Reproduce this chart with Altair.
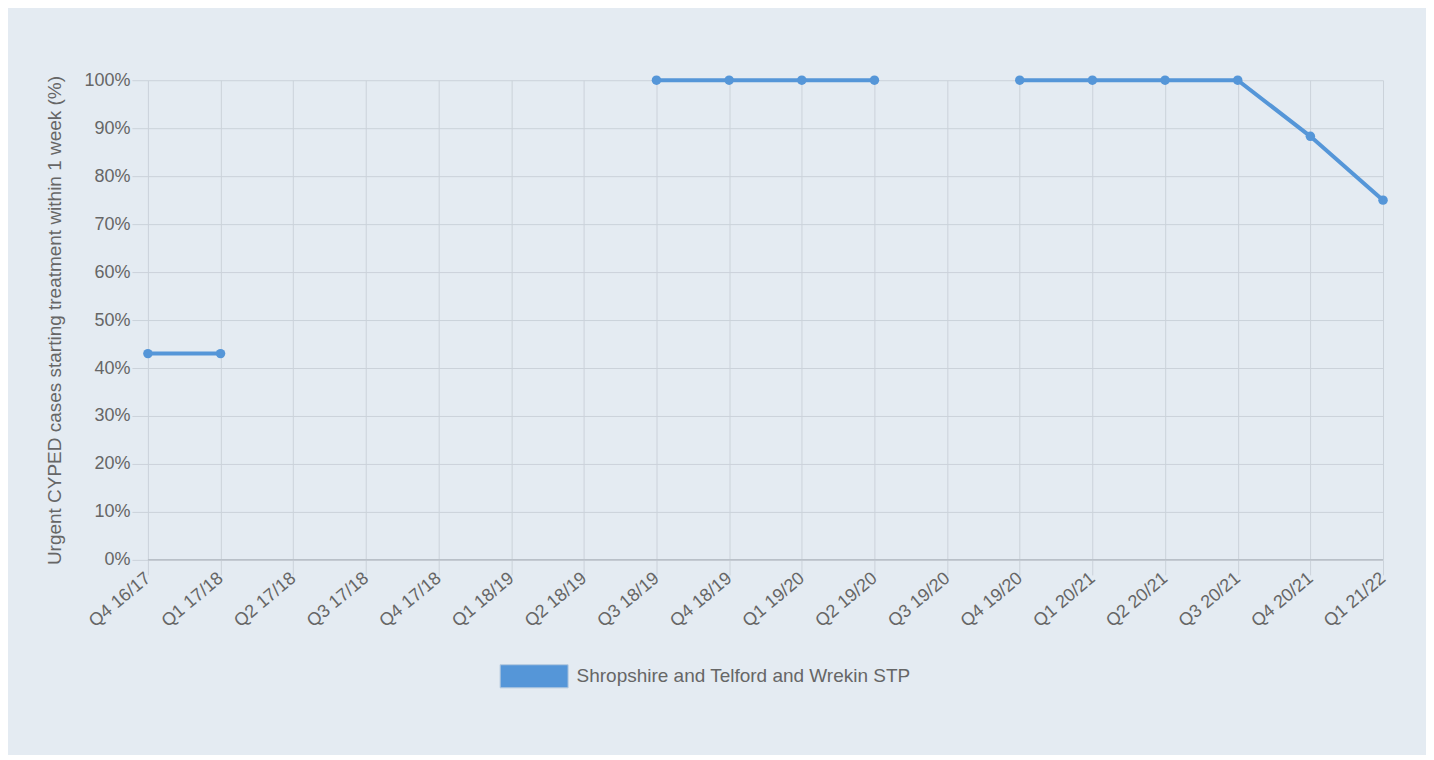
import altair as alt
import pandas as pd

quarters = ["Q4 16/17", "Q1 17/18", "Q2 17/18", "Q3 17/18", "Q4 17/18", "Q1 18/19",
            "Q2 18/19", "Q3 18/19", "Q4 18/19", "Q1 19/20", "Q2 19/20", "Q3 19/20",
            "Q4 19/20", "Q1 20/21", "Q2 20/21", "Q3 20/21", "Q4 20/21", "Q1 21/22"]
values = [43, 43, None, None, None, None,
          None, 100, 100, 100, 100, None,
          100, 100, 100, 100, 88.3, 75]
series = "Shropshire and Telford and Wrekin STP"
y_ticks = list(range(0, 101, 10))

df = pd.DataFrame({"quarter": quarters, "value": values, "series": [series] * len(quarters)})

BLUE = "#5596d8"
GRID = "#cbd2da"
TEXT = "#666666"
FONT = "Liberation Sans"

x_enc = alt.X("quarter:N", sort=quarters,
              scale=alt.Scale(type="point", domain=quarters, padding=0),
              axis=alt.Axis(title=None, grid=True, gridColor=GRID, tickColor=GRID,
                            tickSize=15, domain=False, labelAngle=-40, labelAlign="right",
                            labelBaseline="middle", labelPadding=1, labelFontSize=18,
                            labelColor=TEXT, labelFont=FONT))
y_enc = alt.Y("value:Q", scale=alt.Scale(domain=[0, 100], nice=False),
              axis=alt.Axis(values=y_ticks, labelExpr="datum.value + '%'",
                            title="Urgent CYPED cases starting treatment within 1 week (%)",
                            titleFontSize=19, titleFontWeight="normal", titleColor=TEXT,
                            titleFont=FONT, titlePadding=19,
                            grid=True, gridColor=GRID, tickColor=GRID, tickSize=16,
                            domain=False, labelPadding=2, labelFontSize=18,
                            labelColor=TEXT, labelFont=FONT))

line = alt.Chart(df).mark_line(color=BLUE, strokeWidth=4,
                               invalid="break-paths-show-domains").encode(x=x_enc, y=y_enc)

points = alt.Chart(df).mark_circle(size=90, opacity=1).encode(
    x=x_enc, y=y_enc,
    color=alt.Color("series:N", scale=alt.Scale(domain=[series], range=[BLUE]),
                    legend=alt.Legend(title=None, orient="none", legendX=352, legendY=562,
                                      symbolType="M-1,-0.34H1V0.34H-1Z", symbolSize=4624,
                                      symbolStrokeColor="#b5c9de", symbolStrokeWidth=1,
                                      symbolOpacity=1, labelFontSize=19, labelColor=TEXT,
                                      labelFont=FONT, labelOffset=8, labelLimit=600)))

zero = alt.Chart(pd.DataFrame({"v": [0]})).mark_rule(color="#b9c0c8", strokeWidth=1.5).encode(
    y=alt.Y("v:Q", scale=alt.Scale(domain=[0, 100])))

chart = alt.layer(zero, line, points).properties(
    width=1236, height=480,
    background="#e4ebf2",
    padding={"left": 140, "top": 72, "right": 43, "bottom": 195},
    autosize=alt.AutoSizeParams(type="none"),
).configure_view(stroke=None)

chart.save("out.html", embed_options={"renderer": "svg", "actions": False})
